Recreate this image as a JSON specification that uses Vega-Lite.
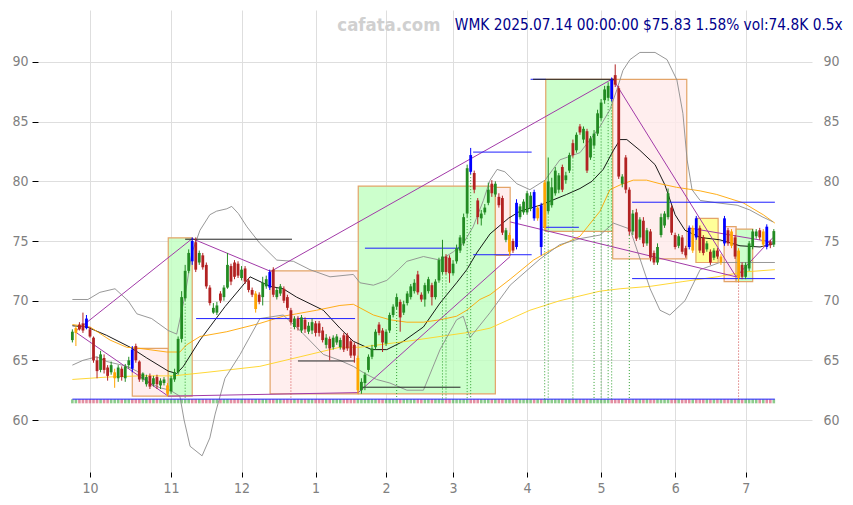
{
"$schema": "https://vega.github.io/schema/vega-lite/v6.json",
"width": 774, "height": 462,
"autosize": {"type": "none"},
"padding": {"left": 38, "top": 9, "right": 41, "bottom": 34},
"background": "white",
"config": {
 "view": {"stroke": null},
 "scale": {"continuousPadding": 0},
 "font": "DejaVu Sans Condensed, DejaVu Sans",
 "axisLeft": {"tickSize": 6, "tickColor": "#000", "labelColor": "#808080", "labelFontSize": 14, "labelPadding": 4, "domain": false, "grid": true, "gridColor": "#dedede", "labelFont": "DejaVu Sans Condensed, DejaVu Sans"},
 "axisRight": {"ticks": false, "labelColor": "#808080", "labelFontSize": 14, "labelPadding": 11, "domain": false, "grid": false, "labelFont": "DejaVu Sans Condensed, DejaVu Sans"},
 "axisBottom": {"tickSize": 5, "tickColor": "#000", "offset": 1, "labelColor": "#808080", "labelFontSize": 14, "labelPadding": 4, "domain": false, "grid": true, "gridColor": "#dedede", "labelFont": "DejaVu Sans Condensed, DejaVu Sans"}
},
"datasets": {
 "boxes": [
  {"a":17.0,"b":27.2,"lo":62.0,"hi":66.0,"kind":"p"},
  {"a":27.2,"b":34.0,"lo":62.0,"hi":75.27,"kind":"g"},
  {"a":56.1,"b":81.1,"lo":62.2,"hi":72.5,"kind":"p"},
  {"a":81.1,"b":120.0,"lo":62.2,"hi":79.6,"kind":"g"},
  {"a":120.0,"b":124.2,"lo":73.8,"hi":79.5,"kind":"p"},
  {"a":134.3,"b":153.3,"lo":75.8,"hi":88.55,"kind":"g"},
  {"a":153.3,"b":174.3,"lo":73.5,"hi":88.55,"kind":"p"},
  {"a":176.9,"b":183.2,"lo":73.2,"hi":76.9,"kind":"y"},
  {"a":184.9,"b":188.3,"lo":71.6,"hi":76.2,"kind":"p"},
  {"a":188.3,"b":193.0,"lo":71.6,"hi":76.0,"kind":"g"}
 ],
 "levels": [
  {"a":0,"b":199.3,"v":61.75,"kind":"blue"},
  {"a":35.1,"b":62.1,"v":68.5,"kind":"blue"},
  {"a":63.7,"b":80.2,"v":68.5,"kind":"blue"},
  {"a":83.0,"b":110.1,"v":74.4,"kind":"blue"},
  {"a":113.7,"b":130.3,"v":82.45,"kind":"blue"},
  {"a":113.7,"b":130.3,"v":73.85,"kind":"blue"},
  {"a":133.5,"b":143.7,"v":76.15,"kind":"blue"},
  {"a":130.0,"b":134.3,"v":88.55,"kind":"blue"},
  {"a":158.8,"b":199.3,"v":78.25,"kind":"blue"},
  {"a":158.8,"b":199.3,"v":71.85,"kind":"blue"},
  {"a":32.0,"b":62.3,"v":75.15,"kind":"black"},
  {"a":64.0,"b":80.2,"v":64.95,"kind":"black"},
  {"a":81.6,"b":110.1,"v":62.75,"kind":"black"},
  {"a":130.7,"b":153.8,"v":88.55,"kind":"black"}
 ],
 "zigzag": [
  {"a":0.75,"av":67.4,"b":34.0,"bv":75.2},
  {"a":0.75,"av":67.4,"b":27.2,"bv":62.0},
  {"a":34.0,"av":75.2,"b":56.3,"bv":72.45},
  {"a":27.2,"av":62.0,"b":81.1,"bv":62.3},
  {"a":56.3,"av":72.45,"b":153.3,"bv":88.6},
  {"a":81.1,"av":62.3,"b":124.2,"bv":73.7},
  {"a":153.3,"av":88.6,"b":188.3,"bv":72.0},
  {"a":124.2,"av":76.6,"b":188.3,"bv":72.0},
  {"a":174.8,"av":76.1,"b":198.8,"bv":74.9},
  {"a":188.3,"av":72.0,"b":198.8,"bv":75.3}
 ],
 "signals": [
  {"t":32,"top":70.0,"k":"g"},{"t":62,"top":68.0,"k":"r"},{"t":92,"top":69.3,"k":"g"},
  {"t":105,"top":72.2,"k":"g"},{"t":106,"top":72.2,"k":"g"},{"t":112,"top":77.0,"k":"g"},
  {"t":113,"top":80.6,"k":"g"},{"t":134,"top":75.9,"k":"g"},{"t":135,"top":77.3,"k":"g"},
  {"t":142,"top":82.0,"k":"g"},{"t":148,"top":82.8,"k":"g"},{"t":150,"top":85.1,"k":"g"},
  {"t":152,"top":86.8,"k":"g"},{"t":153,"top":86.7,"k":"g"},{"t":158,"top":75.5,"k":"g"},
  {"t":189,"top":71.6,"k":"r"}
 ],
 "ma": [
  {"s":"ma20","t":0,"v":67.9},{"s":"ma20","t":4.1,"v":67.8},{"s":"ma20","t":9.7,"v":67.1},{"s":"ma20","t":16.4,"v":66.1},{"s":"ma20","t":21.1,"v":65.2},{"s":"ma20","t":27.2,"v":64.1},{"s":"ma20","t":29.6,"v":63.9},{"s":"ma20","t":31.5,"v":64.5},{"s":"ma20","t":36.2,"v":66.7},{"s":"ma20","t":43.3,"v":69.5},{"s":"ma20","t":50.4,"v":72.0},{"s":"ma20","t":56.1,"v":71.2},{"s":"ma20","t":59.8,"v":71.0},{"s":"ma20","t":63.6,"v":70.3},{"s":"ma20","t":71.2,"v":69.2},{"s":"ma20","t":75.9,"v":67.7},{"s":"ma20","t":79.7,"v":66.6},{"s":"ma20","t":84.9,"v":65.9},{"s":"ma20","t":89.2,"v":65.9},{"s":"ma20","t":93.9,"v":66.6},{"s":"ma20","t":99.6,"v":67.8},{"s":"ma20","t":104.3,"v":69.8},{"s":"ma20","t":109.0,"v":71.5},{"s":"ma20","t":111.9,"v":72.6},{"s":"ma20","t":114.7,"v":74.0},{"s":"ma20","t":118.5,"v":75.6},{"s":"ma20","t":123.7,"v":76.9},{"s":"ma20","t":127.0,"v":77.5},{"s":"ma20","t":132.7,"v":78.0},{"s":"ma20","t":140.2,"v":78.9},{"s":"ma20","t":144.0,"v":79.4},{"s":"ma20","t":147.4,"v":80.0},{"s":"ma20","t":150.6,"v":81.0},{"s":"ma20","t":153.5,"v":82.6},{"s":"ma20","t":155.4,"v":83.5},{"s":"ma20","t":157.3,"v":83.5},{"s":"ma20","t":161.0,"v":82.6},{"s":"ma20","t":165.3,"v":81.4},{"s":"ma20","t":168.1,"v":79.7},{"s":"ma20","t":171.0,"v":77.2},{"s":"ma20","t":173.8,"v":75.9},{"s":"ma20","t":178.1,"v":75.3},{"s":"ma20","t":183.7,"v":75.1},{"s":"ma20","t":189.4,"v":74.6},{"s":"ma20","t":195.1,"v":74.5},{"s":"ma20","t":199.3,"v":74.8},
  {"s":"ma50","t":0,"v":68.0},{"s":"ma50","t":5.0,"v":67.8},{"s":"ma50","t":10.7,"v":66.7},{"s":"ma50","t":15.4,"v":66.1},{"s":"ma50","t":19.2,"v":66.0},{"s":"ma50","t":26.8,"v":65.7},{"s":"ma50","t":30.5,"v":65.7},{"s":"ma50","t":32.4,"v":66.3},{"s":"ma50","t":36.2,"v":67.0},{"s":"ma50","t":43.8,"v":67.4},{"s":"ma50","t":53.2,"v":68.1},{"s":"ma50","t":59.8,"v":68.7},{"s":"ma50","t":63.6,"v":68.9},{"s":"ma50","t":69.3,"v":69.2},{"s":"ma50","t":75.9,"v":69.6},{"s":"ma50","t":79.7,"v":69.7},{"s":"ma50","t":81.6,"v":69.4},{"s":"ma50","t":85.4,"v":68.8},{"s":"ma50","t":90.1,"v":68.4},{"s":"ma50","t":94.9,"v":68.2},{"s":"ma50","t":99.6,"v":68.2},{"s":"ma50","t":104.3,"v":68.4},{"s":"ma50","t":109.0,"v":68.7},{"s":"ma50","t":111.9,"v":69.2},{"s":"ma50","t":115.6,"v":70.1},{"s":"ma50","t":118.5,"v":70.5},{"s":"ma50","t":124.2,"v":71.8},{"s":"ma50","t":130.8,"v":73.4},{"s":"ma50","t":135.5,"v":74.2},{"s":"ma50","t":144.0,"v":75.4},{"s":"ma50","t":149.7,"v":77.5},{"s":"ma50","t":152.5,"v":79.3},{"s":"ma50","t":155.4,"v":79.7},{"s":"ma50","t":159.1,"v":80.1},{"s":"ma50","t":162.9,"v":80.1},{"s":"ma50","t":166.7,"v":79.8},{"s":"ma50","t":171.4,"v":79.5},{"s":"ma50","t":178.1,"v":79.2},{"s":"ma50","t":182.8,"v":78.9},{"s":"ma50","t":190.3,"v":78.2},{"s":"ma50","t":196.0,"v":77.2},{"s":"ma50","t":199.3,"v":76.5},
  {"s":"ma100","t":0,"v":63.4},{"s":"ma100","t":9.8,"v":63.6},{"s":"ma100","t":19.2,"v":63.7},{"s":"ma100","t":28.6,"v":63.7},{"s":"ma100","t":38.2,"v":64.0},{"s":"ma100","t":53.2,"v":64.5},{"s":"ma100","t":64.6,"v":65.3},{"s":"ma100","t":75.9,"v":66.1},{"s":"ma100","t":81.6,"v":66.1},{"s":"ma100","t":94.9,"v":66.6},{"s":"ma100","t":104.3,"v":67.0},{"s":"ma100","t":113.7,"v":67.4},{"s":"ma100","t":118.5,"v":67.7},{"s":"ma100","t":129.8,"v":69.2},{"s":"ma100","t":138.3,"v":70.0},{"s":"ma100","t":149.7,"v":70.8},{"s":"ma100","t":155.4,"v":71.0},{"s":"ma100","t":163.9,"v":71.2},{"s":"ma100","t":173.2,"v":71.6},{"s":"ma100","t":182.9,"v":72.0},{"s":"ma100","t":190.3,"v":72.4},{"s":"ma100","t":199.3,"v":72.6},
  {"s":"upper","t":0,"v":70.1},{"s":"upper","t":4.4,"v":70.1},{"s":"upper","t":7.8,"v":70.7},{"s":"upper","t":12.1,"v":71.0},{"s":"upper","t":15.8,"v":70.0},{"s":"upper","t":18.3,"v":68.9},{"s":"upper","t":22.5,"v":68.5},{"s":"upper","t":27.2,"v":67.5},{"s":"upper","t":29.6,"v":67.2},{"s":"upper","t":32.0,"v":70.5},{"s":"upper","t":33.9,"v":74.0},{"s":"upper","t":36.2,"v":75.9},{"s":"upper","t":39.0,"v":77.2},{"s":"upper","t":40.9,"v":77.5},{"s":"upper","t":43.8,"v":77.7},{"s":"upper","t":45.2,"v":77.9},{"s":"upper","t":47.1,"v":77.3},{"s":"upper","t":49.5,"v":76.2},{"s":"upper","t":53.2,"v":74.8},{"s":"upper","t":58.0,"v":73.4},{"s":"upper","t":62.7,"v":73.3},{"s":"upper","t":67.4,"v":72.6},{"s":"upper","t":73.1,"v":72.0},{"s":"upper","t":79.7,"v":72.2},{"s":"upper","t":81.6,"v":71.5},{"s":"upper","t":85.4,"v":71.3},{"s":"upper","t":89.2,"v":71.7},{"s":"upper","t":92.5,"v":72.6},{"s":"upper","t":94.9,"v":73.3},{"s":"upper","t":99.6,"v":73.7},{"s":"upper","t":104.3,"v":73.4},{"s":"upper","t":108.1,"v":74.1},{"s":"upper","t":110.9,"v":74.8},{"s":"upper","t":113.7,"v":76.2},{"s":"upper","t":116.6,"v":78.4},{"s":"upper","t":118.5,"v":80.1},{"s":"upper","t":120.5,"v":81.0},{"s":"upper","t":122.7,"v":80.8},{"s":"upper","t":126.1,"v":79.8},{"s":"upper","t":129.8,"v":79.3},{"s":"upper","t":134.1,"v":80.1},{"s":"upper","t":138.3,"v":81.8},{"s":"upper","t":144.0,"v":82.4},{"s":"upper","t":146.9,"v":83.5},{"s":"upper","t":149.7,"v":84.6},{"s":"upper","t":152.5,"v":86.0},{"s":"upper","t":154.5,"v":87.7},{"s":"upper","t":156.2,"v":89.3},{"s":"upper","t":158.2,"v":90.2},{"s":"upper","t":161.0,"v":90.8},{"s":"upper","t":165.3,"v":90.8},{"s":"upper","t":168.7,"v":90.2},{"s":"upper","t":171.5,"v":88.5},{"s":"upper","t":173.2,"v":85.7},{"s":"upper","t":174.4,"v":81.8},{"s":"upper","t":175.8,"v":79.3},{"s":"upper","t":178.1,"v":78.4},{"s":"upper","t":182.9,"v":78.2},{"s":"upper","t":188.6,"v":78.0},{"s":"upper","t":192.2,"v":77.6},{"s":"upper","t":195.9,"v":77.0},{"s":"upper","t":198.8,"v":76.6},
  {"s":"lower","t":0,"v":64.6},{"s":"lower","t":3.0,"v":65.0},{"s":"lower","t":6.9,"v":65.3},{"s":"lower","t":9.8,"v":64.9},{"s":"lower","t":15.5,"v":64.5},{"s":"lower","t":18.3,"v":64.1},{"s":"lower","t":22.0,"v":63.1},{"s":"lower","t":24.9,"v":62.7},{"s":"lower","t":27.7,"v":62.5},{"s":"lower","t":30.5,"v":62.0},{"s":"lower","t":31.7,"v":60.0},{"s":"lower","t":33.4,"v":57.8},{"s":"lower","t":36.8,"v":57.0},{"s":"lower","t":39.0,"v":58.5},{"s":"lower","t":40.5,"v":60.5},{"s":"lower","t":43.3,"v":63.5},{"s":"lower","t":47.6,"v":65.5},{"s":"lower","t":53.2,"v":68.5},{"s":"lower","t":59.8,"v":68.8},{"s":"lower","t":64.6,"v":67.5},{"s":"lower","t":71.2,"v":65.5},{"s":"lower","t":75.9,"v":65.0},{"s":"lower","t":79.7,"v":64.5},{"s":"lower","t":83.0,"v":63.9},{"s":"lower","t":86.3,"v":63.4},{"s":"lower","t":90.1,"v":63.1},{"s":"lower","t":94.9,"v":62.5},{"s":"lower","t":99.6,"v":62.5},{"s":"lower","t":104.3,"v":65.9},{"s":"lower","t":109.0,"v":68.4},{"s":"lower","t":110.9,"v":68.7},{"s":"lower","t":112.8,"v":66.9},{"s":"lower","t":118.5,"v":69.0},{"s":"lower","t":124.2,"v":71.3},{"s":"lower","t":132.7,"v":73.5},{"s":"lower","t":138.3,"v":74.7},{"s":"lower","t":144.0,"v":75.2},{"s":"lower","t":149.7,"v":75.5},{"s":"lower","t":153.5,"v":76.5},{"s":"lower","t":158.2,"v":76.0},{"s":"lower","t":163.9,"v":71.0},{"s":"lower","t":166.7,"v":69.2},{"s":"lower","t":169.5,"v":68.8},{"s":"lower","t":173.8,"v":70.0},{"s":"lower","t":178.1,"v":72.6},{"s":"lower","t":183.7,"v":73.2},{"s":"lower","t":199.3,"v":73.2}
 ],
 "candles": [
  {"t":0,"k":"g","o":66.7,"h":67.6,"l":66.5,"c":67.4},
  {"t":1,"k":"y","o":67.3,"h":67.9,"l":66.2,"c":67.7},
  {"t":2,"k":"r","o":68.0,"h":68.2,"l":67.5,"c":67.6},
  {"t":3,"k":"r","o":68.1,"h":69.0,"l":67.3,"c":67.5},
  {"t":4,"k":"b","o":67.7,"h":68.8,"l":67.6,"c":68.5},
  {"t":5,"k":"r","o":67.6,"h":67.8,"l":66.9,"c":67.0},
  {"t":6,"k":"r","o":66.9,"h":67.0,"l":64.8,"c":65.0},
  {"t":7,"k":"r","o":65.0,"h":65.3,"l":63.5,"c":64.1},
  {"t":8,"k":"g","o":64.2,"h":65.8,"l":64.0,"c":65.5},
  {"t":9,"k":"r","o":65.2,"h":65.5,"l":63.9,"c":64.2},
  {"t":10,"k":"r","o":64.4,"h":64.6,"l":63.3,"c":63.7},
  {"t":11,"k":"g","o":64.0,"h":64.9,"l":63.8,"c":64.6},
  {"t":12,"k":"y","o":64.0,"h":64.3,"l":62.7,"c":63.5},
  {"t":13,"k":"g","o":63.5,"h":64.6,"l":63.2,"c":64.4},
  {"t":14,"k":"r","o":64.3,"h":64.5,"l":63.3,"c":63.6},
  {"t":15,"k":"g","o":63.5,"h":64.7,"l":63.2,"c":64.5},
  {"t":16,"k":"g","o":64.6,"h":65.3,"l":64.3,"c":65.0},
  {"t":17,"k":"b","o":64.3,"h":66.2,"l":64.0,"c":65.9},
  {"t":18,"k":"r","o":66.2,"h":66.4,"l":64.8,"c":65.0},
  {"t":19,"k":"r","o":64.9,"h":65.0,"l":63.2,"c":63.4},
  {"t":20,"k":"g","o":63.4,"h":64.0,"l":63.2,"c":63.9},
  {"t":21,"k":"g","o":63.0,"h":63.8,"l":62.8,"c":63.6},
  {"t":22,"k":"r","o":63.7,"h":63.9,"l":62.6,"c":62.8},
  {"t":23,"k":"g","o":63.0,"h":63.7,"l":62.8,"c":63.5},
  {"t":24,"k":"r","o":63.6,"h":63.8,"l":62.6,"c":63.0},
  {"t":25,"k":"g","o":62.9,"h":63.5,"l":62.6,"c":63.3},
  {"t":26,"k":"g","o":63.1,"h":63.6,"l":62.9,"c":63.4},
  {"t":27,"k":"y","o":62.9,"h":63.1,"l":62.0,"c":62.2},
  {"t":28,"k":"g","o":62.4,"h":63.7,"l":62.2,"c":63.5},
  {"t":29,"k":"g","o":63.4,"h":64.3,"l":63.2,"c":64.0},
  {"t":30,"k":"g","o":64.0,"h":67.0,"l":63.8,"c":66.8},
  {"t":31,"k":"g","o":66.8,"h":70.8,"l":66.5,"c":70.3},
  {"t":32,"k":"g","o":70.2,"h":73.0,"l":70.0,"c":72.5},
  {"t":33,"k":"g","o":72.5,"h":74.3,"l":72.3,"c":74.0},
  {"t":34,"k":"b","o":73.3,"h":75.3,"l":73.0,"c":75.0},
  {"t":35,"k":"r","o":74.9,"h":75.3,"l":72.4,"c":72.6},
  {"t":36,"k":"g","o":73.2,"h":74.2,"l":73.0,"c":74.0},
  {"t":37,"k":"r","o":73.8,"h":74.0,"l":72.6,"c":72.8},
  {"t":38,"k":"r","o":73.0,"h":73.2,"l":71.0,"c":71.2},
  {"t":39,"k":"r","o":71.1,"h":71.3,"l":69.6,"c":69.8},
  {"t":40,"k":"g","o":69.0,"h":69.8,"l":68.9,"c":69.4},
  {"t":41,"k":"g","o":69.0,"h":69.9,"l":68.8,"c":69.6},
  {"t":42,"k":"r","o":70.6,"h":70.8,"l":69.8,"c":70.0},
  {"t":43,"k":"g","o":70.3,"h":71.3,"l":70.0,"c":71.1},
  {"t":44,"k":"g","o":71.1,"h":74.0,"l":71.0,"c":73.0},
  {"t":45,"k":"r","o":72.9,"h":73.1,"l":71.3,"c":71.6},
  {"t":46,"k":"r","o":73.2,"h":73.4,"l":71.8,"c":72.0},
  {"t":47,"k":"r","o":73.1,"h":73.3,"l":71.9,"c":72.1},
  {"t":48,"k":"g","o":71.9,"h":72.9,"l":71.7,"c":72.6},
  {"t":49,"k":"r","o":72.7,"h":72.9,"l":71.4,"c":71.6},
  {"t":50,"k":"r","o":71.7,"h":71.9,"l":70.7,"c":70.9},
  {"t":51,"k":"r","o":70.9,"h":71.1,"l":70.3,"c":70.5},
  {"t":52,"k":"y","o":70.6,"h":70.8,"l":69.0,"c":69.3},
  {"t":53,"k":"r","o":70.5,"h":70.7,"l":69.7,"c":69.9},
  {"t":54,"k":"g","o":70.3,"h":72.0,"l":69.6,"c":71.5},
  {"t":55,"k":"g","o":71.2,"h":72.1,"l":71.0,"c":71.8},
  {"t":56,"k":"b","o":71.1,"h":72.6,"l":70.9,"c":72.4},
  {"t":57,"k":"r","o":72.6,"h":72.8,"l":70.3,"c":70.5},
  {"t":58,"k":"g","o":70.3,"h":71.1,"l":70.1,"c":70.9},
  {"t":59,"k":"g","o":70.6,"h":71.4,"l":70.4,"c":71.2},
  {"t":60,"k":"r","o":71.0,"h":71.2,"l":69.8,"c":70.0},
  {"t":61,"k":"r","o":70.3,"h":70.5,"l":69.2,"c":69.4},
  {"t":62,"k":"r","o":69.2,"h":69.4,"l":68.0,"c":68.2},
  {"t":63,"k":"g","o":67.8,"h":68.7,"l":67.6,"c":68.5},
  {"t":64,"k":"r","o":68.5,"h":68.7,"l":67.5,"c":67.8},
  {"t":65,"k":"g","o":67.5,"h":68.8,"l":67.3,"c":68.6},
  {"t":66,"k":"r","o":68.4,"h":68.6,"l":67.3,"c":67.6},
  {"t":67,"k":"g","o":67.4,"h":68.2,"l":67.2,"c":67.9},
  {"t":68,"k":"g","o":67.5,"h":68.5,"l":67.2,"c":68.2},
  {"t":69,"k":"r","o":68.1,"h":68.3,"l":67.0,"c":67.3},
  {"t":70,"k":"r","o":68.1,"h":68.3,"l":67.0,"c":67.3},
  {"t":71,"k":"r","o":67.5,"h":67.8,"l":66.5,"c":66.7},
  {"t":72,"k":"g","o":66.3,"h":67.2,"l":66.0,"c":66.9},
  {"t":73,"k":"r","o":66.8,"h":67.0,"l":65.0,"c":66.0},
  {"t":74,"k":"g","o":66.1,"h":67.1,"l":65.9,"c":66.9},
  {"t":75,"k":"g","o":66.5,"h":67.2,"l":66.3,"c":67.0},
  {"t":76,"k":"g","o":66.1,"h":66.9,"l":65.9,"c":66.7},
  {"t":77,"k":"r","o":67.1,"h":67.3,"l":65.7,"c":65.9},
  {"t":78,"k":"r","o":67.1,"h":67.3,"l":65.8,"c":66.0},
  {"t":79,"k":"r","o":66.6,"h":66.8,"l":65.2,"c":65.4},
  {"t":80,"k":"r","o":66.3,"h":66.5,"l":64.8,"c":65.4},
  {"t":81,"k":"y","o":65.2,"h":65.4,"l":62.2,"c":62.5},
  {"t":82,"k":"g","o":62.5,"h":63.5,"l":62.2,"c":63.2},
  {"t":83,"k":"g","o":63.1,"h":64.0,"l":62.5,"c":63.8},
  {"t":84,"k":"g","o":64.2,"h":65.5,"l":64.0,"c":65.3},
  {"t":85,"k":"g","o":65.3,"h":66.3,"l":65.1,"c":66.0},
  {"t":86,"k":"g","o":66.1,"h":67.6,"l":65.9,"c":67.4},
  {"t":87,"k":"r","o":68.0,"h":68.2,"l":67.1,"c":67.3},
  {"t":88,"k":"r","o":67.5,"h":67.7,"l":65.7,"c":66.5},
  {"t":89,"k":"g","o":66.4,"h":67.6,"l":66.2,"c":67.4},
  {"t":90,"k":"g","o":67.5,"h":69.0,"l":67.3,"c":68.8},
  {"t":91,"k":"g","o":68.8,"h":69.7,"l":68.6,"c":69.5},
  {"t":92,"k":"g","o":69.5,"h":70.6,"l":69.3,"c":70.3},
  {"t":93,"k":"r","o":69.9,"h":70.1,"l":67.4,"c":68.6},
  {"t":94,"k":"g","o":69.0,"h":70.0,"l":68.8,"c":69.7},
  {"t":95,"k":"g","o":69.8,"h":70.8,"l":69.6,"c":70.6},
  {"t":96,"k":"g","o":70.3,"h":71.4,"l":70.1,"c":71.2},
  {"t":97,"k":"g","o":70.8,"h":71.8,"l":70.6,"c":71.5},
  {"t":98,"k":"r","o":72.2,"h":72.5,"l":70.5,"c":70.7},
  {"t":99,"k":"r","o":70.5,"h":70.7,"l":69.9,"c":70.1},
  {"t":100,"k":"g","o":70.1,"h":71.5,"l":69.5,"c":71.3},
  {"t":101,"k":"g","o":70.8,"h":72.0,"l":70.6,"c":71.8},
  {"t":102,"k":"r","o":71.3,"h":71.5,"l":69.6,"c":70.3},
  {"t":103,"k":"g","o":70.3,"h":71.8,"l":70.1,"c":71.6},
  {"t":104,"k":"g","o":71.7,"h":73.6,"l":71.5,"c":73.4},
  {"t":105,"k":"g","o":72.4,"h":75.1,"l":72.2,"c":73.7},
  {"t":106,"k":"r","o":73.7,"h":73.9,"l":72.2,"c":72.4},
  {"t":107,"k":"r","o":73.6,"h":73.8,"l":71.5,"c":72.3},
  {"t":108,"k":"g","o":72.3,"h":73.4,"l":72.1,"c":73.1},
  {"t":109,"k":"g","o":73.3,"h":74.7,"l":73.1,"c":74.4},
  {"t":110,"k":"g","o":74.2,"h":75.5,"l":74.0,"c":75.3},
  {"t":111,"k":"g","o":74.8,"h":77.3,"l":74.6,"c":77.0},
  {"t":112,"k":"g","o":77.3,"h":81.4,"l":77.0,"c":81.1},
  {"t":113,"k":"b","o":80.8,"h":82.8,"l":80.6,"c":82.2},
  {"t":114,"k":"r","o":80.7,"h":80.9,"l":79.0,"c":79.3},
  {"t":115,"k":"r","o":78.4,"h":78.6,"l":76.4,"c":77.0},
  {"t":116,"k":"g","o":76.9,"h":77.6,"l":76.3,"c":77.3},
  {"t":117,"k":"g","o":77.4,"h":78.1,"l":77.2,"c":77.8},
  {"t":118,"k":"g","o":78.2,"h":79.9,"l":78.0,"c":79.3},
  {"t":119,"k":"r","o":79.8,"h":80.1,"l":78.7,"c":79.0},
  {"t":120,"k":"g","o":78.9,"h":80.0,"l":78.7,"c":79.8},
  {"t":121,"k":"r","o":78.7,"h":79.0,"l":77.8,"c":78.0},
  {"t":122,"k":"r","o":78.6,"h":78.8,"l":75.5,"c":75.7},
  {"t":123,"k":"g","o":75.1,"h":76.1,"l":74.9,"c":75.9},
  {"t":124,"k":"y","o":75.5,"h":75.7,"l":73.8,"c":74.1},
  {"t":125,"k":"r","o":75.0,"h":75.2,"l":74.0,"c":74.2},
  {"t":126,"k":"b","o":74.5,"h":78.5,"l":74.3,"c":78.2},
  {"t":127,"k":"g","o":77.0,"h":78.1,"l":76.8,"c":77.9},
  {"t":128,"k":"g","o":77.4,"h":78.5,"l":77.2,"c":78.3},
  {"t":129,"k":"g","o":77.4,"h":79.2,"l":77.2,"c":79.0},
  {"t":130,"k":"g","o":77.7,"h":79.1,"l":77.5,"c":78.8},
  {"t":131,"k":"b","o":76.9,"h":79.3,"l":76.7,"c":79.1},
  {"t":132,"k":"y","o":77.8,"h":78.0,"l":76.7,"c":76.9},
  {"t":133,"k":"b","o":74.5,"h":78.2,"l":73.8,"c":78.0},
  {"t":134,"k":"y","o":76.1,"h":80.1,"l":75.9,"c":79.9},
  {"t":135,"k":"g","o":77.5,"h":82.0,"l":77.3,"c":80.0},
  {"t":136,"k":"g","o":78.0,"h":80.3,"l":77.8,"c":79.5},
  {"t":137,"k":"g","o":79.0,"h":81.2,"l":78.8,"c":80.9},
  {"t":138,"k":"g","o":79.3,"h":80.7,"l":79.0,"c":80.5},
  {"t":139,"k":"r","o":81.2,"h":81.4,"l":79.1,"c":79.3},
  {"t":140,"k":"g","o":80.1,"h":80.8,"l":79.8,"c":80.5},
  {"t":141,"k":"g","o":80.9,"h":82.4,"l":80.7,"c":82.2},
  {"t":142,"k":"r","o":83.2,"h":83.5,"l":82.0,"c":82.2},
  {"t":143,"k":"g","o":82.6,"h":84.1,"l":82.4,"c":83.9},
  {"t":144,"k":"r","o":84.6,"h":84.8,"l":83.9,"c":84.1},
  {"t":145,"k":"g","o":83.5,"h":84.6,"l":83.2,"c":84.4},
  {"t":146,"k":"r","o":84.2,"h":84.4,"l":80.7,"c":80.9},
  {"t":147,"k":"g","o":82.0,"h":83.8,"l":81.8,"c":83.6},
  {"t":148,"k":"g","o":83.0,"h":84.3,"l":82.8,"c":84.0},
  {"t":149,"k":"g","o":84.0,"h":86.0,"l":83.8,"c":85.7},
  {"t":150,"k":"g","o":85.3,"h":86.9,"l":85.1,"c":86.6},
  {"t":151,"k":"g","o":86.8,"h":88.0,"l":86.5,"c":87.7},
  {"t":152,"k":"g","o":87.0,"h":88.3,"l":86.8,"c":88.0},
  {"t":153,"k":"b","o":86.9,"h":88.7,"l":86.7,"c":88.5},
  {"t":154,"k":"r","o":88.9,"h":89.8,"l":87.9,"c":88.1},
  {"t":155,"k":"r","o":87.8,"h":88.0,"l":80.2,"c":80.4},
  {"t":156,"k":"g","o":79.8,"h":80.6,"l":79.5,"c":80.4},
  {"t":157,"k":"r","o":82.0,"h":82.2,"l":79.0,"c":79.3},
  {"t":158,"k":"r","o":79.3,"h":79.5,"l":75.5,"c":75.8},
  {"t":159,"k":"g","o":75.8,"h":77.6,"l":75.5,"c":77.3},
  {"t":160,"k":"r","o":77.4,"h":77.7,"l":75.0,"c":75.2},
  {"t":161,"k":"g","o":75.3,"h":77.0,"l":75.1,"c":76.8},
  {"t":162,"k":"r","o":76.7,"h":77.0,"l":74.5,"c":74.8},
  {"t":163,"k":"g","o":74.8,"h":76.1,"l":74.6,"c":75.9},
  {"t":164,"k":"r","o":75.8,"h":76.0,"l":73.3,"c":73.6},
  {"t":165,"k":"r","o":74.0,"h":74.2,"l":73.0,"c":73.2},
  {"t":166,"k":"g","o":73.2,"h":74.8,"l":73.0,"c":74.5},
  {"t":167,"k":"g","o":75.5,"h":77.3,"l":75.3,"c":77.0},
  {"t":168,"k":"g","o":76.3,"h":77.5,"l":76.1,"c":77.3},
  {"t":169,"k":"g","o":77.0,"h":79.4,"l":76.8,"c":79.0},
  {"t":170,"k":"r","o":77.8,"h":78.0,"l":75.5,"c":75.7},
  {"t":171,"k":"r","o":75.5,"h":75.7,"l":74.3,"c":74.5},
  {"t":172,"k":"g","o":74.6,"h":75.6,"l":74.4,"c":75.4},
  {"t":173,"k":"r","o":75.3,"h":75.5,"l":73.9,"c":74.1},
  {"t":174,"k":"r","o":74.4,"h":74.6,"l":73.6,"c":73.8},
  {"t":175,"k":"b","o":74.5,"h":76.3,"l":74.3,"c":76.1},
  {"t":176,"k":"y","o":76.1,"h":76.3,"l":74.0,"c":74.2},
  {"t":177,"k":"b","o":75.3,"h":77.1,"l":75.1,"c":76.9},
  {"t":178,"k":"r","o":76.1,"h":76.3,"l":74.0,"c":74.2},
  {"t":179,"k":"r","o":75.3,"h":75.5,"l":73.8,"c":74.0},
  {"t":180,"k":"g","o":74.3,"h":75.0,"l":74.1,"c":74.8},
  {"t":181,"k":"r","o":74.1,"h":74.3,"l":73.0,"c":73.2},
  {"t":182,"k":"g","o":73.6,"h":74.4,"l":73.4,"c":74.2},
  {"t":183,"k":"r","o":74.2,"h":74.4,"l":73.5,"c":73.7},
  {"t":184,"k":"y","o":73.7,"h":73.9,"l":73.0,"c":73.2},
  {"t":185,"k":"b","o":74.8,"h":77.1,"l":74.6,"c":76.9},
  {"t":186,"k":"r","o":75.9,"h":76.1,"l":74.6,"c":74.8},
  {"t":187,"k":"y","o":75.8,"h":76.0,"l":74.4,"c":74.6},
  {"t":188,"k":"r","o":75.3,"h":75.5,"l":73.5,"c":73.7},
  {"t":189,"k":"y","o":74.2,"h":74.4,"l":71.6,"c":71.9},
  {"t":190,"k":"r","o":73.0,"h":73.2,"l":71.8,"c":72.0},
  {"t":191,"k":"g","o":72.0,"h":73.2,"l":71.8,"c":73.0},
  {"t":192,"k":"g","o":72.7,"h":75.0,"l":72.5,"c":74.8},
  {"t":193,"k":"g","o":74.5,"h":76.0,"l":74.3,"c":75.8},
  {"t":194,"k":"g","o":75.4,"h":76.0,"l":75.2,"c":75.8},
  {"t":195,"k":"r","o":75.9,"h":76.1,"l":75.1,"c":75.3},
  {"t":196,"k":"y","o":75.8,"h":76.0,"l":74.5,"c":74.7},
  {"t":197,"k":"b","o":74.5,"h":76.4,"l":74.3,"c":76.2},
  {"t":198,"k":"r","o":74.9,"h":75.1,"l":74.4,"c":74.65},
  {"t":199,"k":"g","o":74.7,"h":76.0,"l":74.5,"c":75.83}
 ]
},
"layer": [
 {
  "data": {"name": "boxes"},
  "mark": {"type": "rect", "stroke": "#e3a468", "strokeWidth": 1.2, "fillOpacity": 0.8},
  "encoding": {
   "x": {"field": "a", "type": "quantitative", "title": null, "scale": {"domain": [-9.75, 209.83], "nice": false, "zero": false, "padding": 0},
         "axis": {"orient": "bottom", "values": [5,28,48,69,89,108,129,150,171,191], "labelExpr": "['10','11','12','1','2','3','4','5','6','7'][indexof([5,28,48,69,89,108,129,150,171,191], datum.value)]"}},
   "x2": {"field": "b"},
   "y": {"field": "lo", "type": "quantitative", "title": null, "scale": {"domain": [55.73, 94.44], "nice": false, "zero": false},
         "axis": {"orient": "left", "values": [60,65,70,75,80,85,90]}},
   "y2": {"field": "hi"},
   "fill": {"field": "kind", "type": "nominal", "legend": null, "scale": {"domain": ["g","p","y"], "range": ["#bfffbf","#ffeaea","#ffff7f"]}}
  }
 },
 {
  "data": {"name": "candles"},
  "mark": {"type": "bar", "width": 2.6, "opacity": 0.55},
  "encoding": {
   "x": {"field": "t", "type": "quantitative", "title": null, "scale": {"domain": [-9.75, 209.83], "nice": false, "zero": false, "padding": 0}},
   "y": {"datum": 61.4, "type": "quantitative", "title": null, "axis": null, "scale": {"domain": [55.73, 94.44], "nice": false, "zero": false}},
   "y2": {"datum": 61.74},
   "color": {"field": "k", "type": "nominal", "legend": null, "scale": {"domain": ["g","r","b","y"], "range": ["#2ea02e","#cc3355","#cc3355","#2ea02e"]}}
  }
 },
 {
  "data": {"name": "ma"},
  "mark": {"type": "line", "strokeWidth": 0.9},
  "encoding": {
   "x": {"field": "t", "type": "quantitative", "title": null, "scale": {"domain": [-9.75, 209.83], "nice": false, "zero": false, "padding": 0}},
   "y": {"field": "v", "type": "quantitative", "title": null, "scale": {"domain": [55.73, 94.44], "nice": false, "zero": false},
         "axis": {"orient": "right", "values": [60,65,70,75,80,85,90]}},
   "color": {"field": "s", "type": "nominal", "legend": null, "scale": {"domain": ["upper","lower","ma20","ma50","ma100"], "range": ["#8c8c8c","#8c8c8c","#000000","#ffa500","#ffd21f"]}}
  }
 },
 {
  "data": {"name": "zigzag"},
  "mark": {"type": "rule", "color": "#a23aa8", "strokeWidth": 1},
  "encoding": {
   "x": {"field": "a", "type": "quantitative", "title": null, "scale": {"domain": [-9.75, 209.83], "nice": false, "zero": false, "padding": 0}},
   "x2": {"field": "b"},
   "y": {"field": "av", "type": "quantitative", "title": null, "axis": null, "scale": {"domain": [55.73, 94.44], "nice": false, "zero": false}},
   "y2": {"field": "bv"}
  }
 },
 {
  "data": {"name": "levels"},
  "mark": {"type": "rule", "strokeWidth": 1},
  "encoding": {
   "x": {"field": "a", "type": "quantitative", "title": null, "scale": {"domain": [-9.75, 209.83], "nice": false, "zero": false, "padding": 0}},
   "x2": {"field": "b"},
   "y": {"field": "v", "type": "quantitative", "title": null, "axis": null, "scale": {"domain": [55.73, 94.44], "nice": false, "zero": false}},
   "color": {"field": "kind", "type": "nominal", "legend": null, "scale": {"domain": ["blue","black"], "range": ["#1f1fff","#222222"]}}
  }
 },
 {
  "data": {"name": "signals"},
  "mark": {"type": "rule", "strokeWidth": 1, "strokeDash": [1, 2]},
  "encoding": {
   "x": {"field": "t", "type": "quantitative", "title": null, "scale": {"domain": [-9.75, 209.83], "nice": false, "zero": false, "padding": 0}},
   "y": {"field": "top", "type": "quantitative", "title": null, "axis": null, "scale": {"domain": [55.73, 94.44], "nice": false, "zero": false}},
   "y2": {"datum": 61.75},
   "color": {"field": "k", "type": "nominal", "legend": null, "scale": {"domain": ["g","r"], "range": ["#2e9e2e","#d04848"]}}
  }
 },
 {
  "data": {"name": "candles"},
  "mark": {"type": "rule", "strokeWidth": 1},
  "encoding": {
   "x": {"field": "t", "type": "quantitative", "title": null, "scale": {"domain": [-9.75, 209.83], "nice": false, "zero": false, "padding": 0}},
   "y": {"field": "l", "type": "quantitative", "title": null, "axis": null, "scale": {"domain": [55.73, 94.44], "nice": false, "zero": false}},
   "y2": {"field": "h"},
   "color": {"field": "k", "type": "nominal", "legend": null, "scale": {"domain": ["g","r","b","y"], "range": ["#228b22","#b22222","#0000ff","#ffa500"]}}
  }
 },
 {
  "data": {"name": "candles"},
  "mark": {"type": "bar", "width": 2.8},
  "encoding": {
   "x": {"field": "t", "type": "quantitative", "title": null, "scale": {"domain": [-9.75, 209.83], "nice": false, "zero": false, "padding": 0}},
   "y": {"field": "o", "type": "quantitative", "title": null, "axis": null, "scale": {"domain": [55.73, 94.44], "nice": false, "zero": false}},
   "y2": {"field": "c"},
   "color": {"field": "k", "type": "nominal", "legend": null, "scale": {"domain": ["g","r","b","y"], "range": ["#228b22","#b22222","#0000ff","#ffa500"]}}
  }
 },
 {
  "data": {"values": [{"label": "cafata.com"}]},
  "mark": {"type": "text", "fontSize": 18.4, "fontWeight": "bold", "color": "#d0d0d0", "align": "center", "baseline": "middle", "font": "DejaVu Sans Condensed, DejaVu Sans"},
  "encoding": {
   "x": {"datum": 89.8, "type": "quantitative", "title": null, "scale": {"domain": [-9.75, 209.83], "nice": false, "zero": false, "padding": 0}},
   "y": {"datum": 93.06, "type": "quantitative", "title": null, "axis": null, "scale": {"domain": [55.73, 94.44], "nice": false, "zero": false}},
   "text": {"field": "label"}
  }
 },
 {
  "data": {"values": [{"label": "WMK 2025.07.14 00:00:00 $75.83 1.58% vol:74.8K 0.5x"}]},
  "mark": {"type": "text", "fontSize": 15.3, "color": "#00008b", "align": "left", "baseline": "middle", "font": "DejaVu Sans Condensed, DejaVu Sans"},
  "encoding": {
   "x": {"datum": 108.5, "type": "quantitative", "title": null, "scale": {"domain": [-9.75, 209.83], "nice": false, "zero": false, "padding": 0}},
   "y": {"datum": 93.06, "type": "quantitative", "title": null, "axis": null, "scale": {"domain": [55.73, 94.44], "nice": false, "zero": false}},
   "text": {"field": "label"}
  }
 }
],
"resolve": {"axis": {"y": "independent"}, "scale": {"color": "independent", "fill": "independent"}}
}
